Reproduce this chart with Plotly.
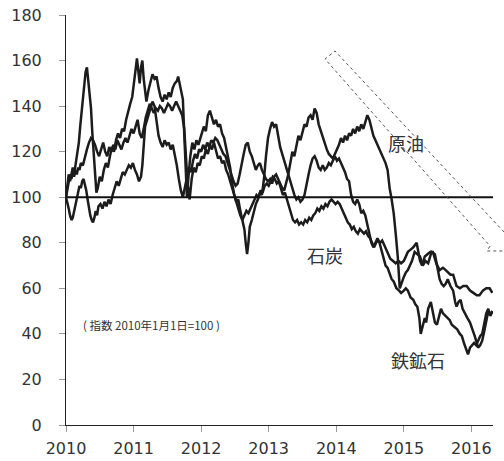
import plotly.graph_objects as go

# ---- data (decimal year, index 2010/1/1 = 100) ----
iron_x = [2010.00,2010.02,2010.04,2010.06,2010.08,2010.10,2010.12,2010.14,2010.17,2010.19,2010.21,2010.23,2010.25,2010.27,2010.29,2010.31,2010.33,2010.35,2010.37,2010.39,2010.41,2010.43,2010.45,2010.47,2010.50,2010.53,2010.56,2010.59,2010.62,2010.65,2010.68,2010.71,2010.74,2010.77,2010.80,2010.83,2010.86,2010.89,2010.92,2010.95,2010.98,2011.01,2011.03,2011.05,2011.07,2011.09,2011.11,2011.13,2011.15,2011.17,2011.19,2011.22,2011.25,2011.28,2011.31,2011.34,2011.37,2011.40,2011.43,2011.46,2011.49,2011.52,2011.55,2011.58,2011.61,2011.64,2011.66,2011.68,2011.71,2011.73,2011.75,2011.77,2011.79,2011.81,2011.84,2011.87,2011.90,2011.93,2011.96,2012.00,2012.04,2012.07,2012.10,2012.13,2012.16,2012.19,2012.22,2012.25,2012.28,2012.31,2012.34,2012.37,2012.40,2012.43,2012.46,2012.49,2012.52,2012.55,2012.58,2012.61,2012.64,2012.66,2012.68,2012.70,2012.72,2012.75,2012.78,2012.81,2012.84,2012.87,2012.90,2012.93,2012.96,2012.99,2013.02,2013.05,2013.08,2013.11,2013.14,2013.17,2013.20,2013.23,2013.26,2013.29,2013.32,2013.35,2013.38,2013.41,2013.44,2013.47,2013.50,2013.53,2013.56,2013.59,2013.62,2013.65,2013.68,2013.71,2013.74,2013.77,2013.80,2013.83,2013.86,2013.89,2013.92,2013.95,2013.98,2014.01,2014.04,2014.07,2014.10,2014.13,2014.16,2014.19,2014.22,2014.25,2014.28,2014.31,2014.34,2014.37,2014.40,2014.43,2014.46,2014.49,2014.52,2014.55,2014.58,2014.61,2014.64,2014.67,2014.70,2014.73,2014.76,2014.79,2014.82,2014.85,2014.89,2014.93,2014.96,2015.00,2015.03,2015.06,2015.10,2015.14,2015.17,2015.20,2015.23,2015.25,2015.28,2015.31,2015.33,2015.36,2015.40,2015.43,2015.46,2015.49,2015.52,2015.55,2015.58,2015.61,2015.64,2015.68,2015.71,2015.75,2015.79,2015.83,2015.86,2015.89,2015.92,2015.95,2015.98,2016.01,2016.04,2016.07,2016.10,2016.13,2016.16,2016.19,2016.22,2016.25,2016.28,2016.31]
iron_y = [100,106,110,107,111,113,110,114,118,124,131,137,143,150,155,157,151,148,139,128,118,108,102,104,109,107,112,115,113,118,122,120,125,128,126,130,129,134,138,141,144,150,156,161,155,150,157,160,152,146,142,147,151,154,152,153,148,144,142,145,143,146,144,148,150,151,153,150,147,143,128,110,100,108,118,124,121,125,123,127,131,129,136,138,135,132,134,131,132,128,126,122,117,113,106,101,98,99,94,90,86,80,75,80,87,90,94,97,99,102,101,108,118,126,130,133,131,132,127,122,119,116,113,110,106,103,101,99,100,98,99,101,106,110,114,117,118,116,113,112,114,112,113,115,114,116,118,116,117,115,113,111,108,107,101,98,97,99,97,93,94,92,88,84,80,78,80,82,80,77,73,70,69,66,64,63,60,59,58,59,60,59,56,55,53,52,47,40,44,47,45,51,54,50,45,44,48,51,49,48,47,46,44,43,42,40,39,36,33,31,34,35,36,35,37,39,40,44,49,51,48,50]

oil_x = [2010.00,2010.02,2010.04,2010.06,2010.08,2010.10,2010.12,2010.14,2010.16,2010.18,2010.20,2010.22,2010.24,2010.26,2010.28,2010.30,2010.32,2010.34,2010.36,2010.38,2010.40,2010.42,2010.44,2010.46,2010.48,2010.51,2010.54,2010.57,2010.60,2010.63,2010.66,2010.69,2010.72,2010.75,2010.78,2010.81,2010.84,2010.87,2010.90,2010.93,2010.96,2010.99,2011.02,2011.05,2011.08,2011.11,2011.13,2011.15,2011.17,2011.19,2011.22,2011.25,2011.28,2011.31,2011.34,2011.37,2011.40,2011.43,2011.46,2011.49,2011.52,2011.55,2011.58,2011.61,2011.64,2011.67,2011.70,2011.73,2011.76,2011.79,2011.82,2011.85,2011.88,2011.91,2011.94,2011.97,2012.00,2012.03,2012.06,2012.09,2012.12,2012.15,2012.18,2012.21,2012.24,2012.27,2012.30,2012.33,2012.36,2012.39,2012.42,2012.45,2012.48,2012.51,2012.54,2012.57,2012.60,2012.63,2012.66,2012.69,2012.72,2012.75,2012.78,2012.81,2012.84,2012.87,2012.90,2012.93,2012.96,2012.99,2013.02,2013.05,2013.08,2013.11,2013.14,2013.17,2013.20,2013.23,2013.26,2013.29,2013.32,2013.35,2013.38,2013.41,2013.44,2013.47,2013.50,2013.53,2013.56,2013.59,2013.62,2013.65,2013.68,2013.71,2013.74,2013.77,2013.80,2013.83,2013.86,2013.89,2013.92,2013.95,2013.98,2014.01,2014.04,2014.07,2014.10,2014.13,2014.16,2014.19,2014.22,2014.25,2014.28,2014.31,2014.34,2014.37,2014.40,2014.43,2014.46,2014.49,2014.52,2014.55,2014.58,2014.61,2014.64,2014.67,2014.70,2014.73,2014.76,2014.79,2014.82,2014.85,2014.88,2014.91,2014.94,2014.97,2015.00,2015.03,2015.06,2015.09,2015.12,2015.16,2015.20,2015.24,2015.28,2015.32,2015.36,2015.41,2015.46,2015.50,2015.53,2015.56,2015.59,2015.62,2015.65,2015.69,2015.73,2015.76,2015.78,2015.81,2015.84,2015.87,2015.90,2015.94,2015.98,2016.02,2016.05,2016.08,2016.10,2016.13,2016.16,2016.19,2016.22,2016.25,2016.28,2016.31]
oil_y = [100,98,95,92,90,91,94,97,100,103,105,104,107,108,106,103,99,95,92,90,89,91,94,92,96,97,95,98,96,99,97,101,104,107,105,108,111,110,112,114,113,115,112,110,107,109,114,124,131,133,136,139,142,140,133,127,124,122,125,123,124,121,123,119,114,108,103,100,104,109,113,111,116,119,117,121,120,123,121,124,122,125,124,126,125,123,121,119,118,115,113,110,107,105,106,110,115,119,123,124,120,118,115,112,114,115,112,110,108,107,108,106,109,110,108,106,104,103,106,110,115,120,118,123,127,125,129,132,131,135,136,134,139,137,132,129,126,124,121,119,118,117,119,121,123,126,124,127,125,128,127,130,128,131,129,132,130,133,136,134,130,127,125,123,121,119,117,115,112,104,99,93,84,74,60,63,65,67,68,70,72,76,75,74,70,72,71,76,75,68,64,62,61,62,64,61,59,54,52,54,55,51,49,47,45,42,39,36,34,35,37,41,45,50,48,50]

coal_x = [2010.00,2010.02,2010.04,2010.06,2010.08,2010.10,2010.12,2010.14,2010.16,2010.18,2010.20,2010.22,2010.25,2010.28,2010.31,2010.34,2010.37,2010.40,2010.43,2010.46,2010.49,2010.52,2010.55,2010.58,2010.61,2010.64,2010.67,2010.70,2010.73,2010.76,2010.79,2010.82,2010.85,2010.88,2010.91,2010.94,2010.97,2011.00,2011.03,2011.06,2011.09,2011.12,2011.15,2011.18,2011.21,2011.24,2011.27,2011.30,2011.33,2011.36,2011.39,2011.42,2011.45,2011.48,2011.51,2011.54,2011.57,2011.60,2011.63,2011.66,2011.69,2011.72,2011.75,2011.77,2011.80,2011.83,2011.86,2011.89,2011.92,2011.95,2011.98,2012.01,2012.04,2012.07,2012.10,2012.13,2012.16,2012.19,2012.22,2012.25,2012.28,2012.31,2012.34,2012.37,2012.40,2012.43,2012.46,2012.49,2012.52,2012.55,2012.58,2012.61,2012.64,2012.67,2012.70,2012.73,2012.76,2012.79,2012.82,2012.85,2012.88,2012.91,2012.94,2012.97,2013.00,2013.03,2013.06,2013.09,2013.12,2013.15,2013.18,2013.21,2013.24,2013.27,2013.30,2013.33,2013.36,2013.39,2013.42,2013.45,2013.48,2013.51,2013.54,2013.57,2013.60,2013.63,2013.66,2013.69,2013.72,2013.75,2013.78,2013.81,2013.84,2013.87,2013.90,2013.93,2013.96,2013.99,2014.02,2014.05,2014.08,2014.11,2014.14,2014.17,2014.20,2014.23,2014.26,2014.29,2014.32,2014.35,2014.38,2014.41,2014.44,2014.47,2014.50,2014.53,2014.56,2014.59,2014.62,2014.65,2014.68,2014.71,2014.74,2014.77,2014.80,2014.84,2014.88,2014.92,2014.96,2015.00,2015.03,2015.06,2015.10,2015.14,2015.19,2015.22,2015.24,2015.27,2015.31,2015.35,2015.39,2015.43,2015.46,2015.48,2015.53,2015.58,2015.62,2015.65,2015.69,2015.73,2015.76,2015.78,2015.83,2015.88,2015.93,2015.98,2016.03,2016.08,2016.12,2016.17,2016.22,2016.27,2016.31]
coal_y = [100,104,107,110,108,111,109,112,110,113,112,115,114,118,121,124,126,125,123,120,118,121,124,120,118,122,120,123,121,125,123,121,124,126,124,127,130,128,131,134,128,126,130,135,138,141,139,137,139,138,140,139,137,139,141,140,138,140,142,140,138,136,130,118,106,99,108,113,111,115,114,118,117,121,119,123,121,124,120,117,118,115,116,112,110,107,103,100,97,95,92,90,92,94,93,95,97,99,101,100,103,102,105,106,105,107,109,108,106,107,104,101,102,99,96,93,90,89,90,88,89,88,90,89,91,90,92,93,95,94,96,95,97,96,98,99,98,97,98,97,95,93,91,89,88,86,87,85,84,86,85,84,85,83,82,80,78,80,81,80,81,79,77,75,73,72,71,72,71,72,74,76,77,78,80,76,72,70,74,75,76,76,73,71,68,69,68,67,66,66,63,61,60,61,61,59,58,57,57,59,60,60,58]

year_ticks = [2010, 2011, 2012, 2013, 2014, 2015, 2016]
year_labels = ["2010", "2011", "2012", "2013", "2014", "2015", "2016"]
y_ticks = [0, 20, 40, 60, 80, 100, 120, 140, 160, 180]

LINE = dict(color="#1c1c1c", width=2.5)

fig = go.Figure()
for xs, ys, nm in [(coal_x, coal_y, "石炭"), (oil_x, oil_y, "原油"), (iron_x, iron_y, "鉄鉱石")]:
    fig.add_trace(go.Scatter(x=xs, y=ys, mode="lines", name=nm, line=LINE, showlegend=False,
                             hoverinfo="skip"))

X0, X1 = 2010, 2016.32

# baseline at 100
fig.add_shape(type="line", xref="x", yref="y", x0=X0, x1=X1, y0=100, y1=100,
              line=dict(color="#111111", width=2))

# dashed arrow box (paper coordinates, plot area 66..493 x 15..425 px)
def P(px, py):
    return (px - 66) / 427.0, (425 - py) / 410.0

pts = [P(504, 232), P(335, 51), P(325, 59), P(490, 246), P(487, 251), P(504, 251)]
path = "M " + " L ".join(f"{a:.4f},{b:.4f}" for a, b in pts)
fig.add_shape(type="path", xref="paper", yref="paper", path=path,
              line=dict(color="#555555", width=1, dash="dot"))

JP = "Noto Sans CJK JP"
ann = dict(showarrow=False, xref="x", yref="y", font=dict(family=JP, size=18, color="#333333"))
fig.add_annotation(x=2015.03, y=123.8, text="原油", **ann)
fig.add_annotation(x=2013.83, y=74.6, text="石炭", **ann)
fig.add_annotation(x=2015.21, y=28.5, text="鉄鉱石", **ann)
fig.add_annotation(x=2011.27, y=43.9, text="( 指数 2010年1月1日=100 )", showarrow=False,
                   xref="x", yref="y", font=dict(family=JP, size=11.5, color="#333333"))

fig.update_layout(
    width=504, height=461,
    margin=dict(l=66, r=11, t=15, b=36, autoexpand=False),
    paper_bgcolor="white", plot_bgcolor="white",
    font=dict(family="DejaVu Sans", size=15, color="#333333"),
)
fig.update_xaxes(range=[X0, X1], tickvals=year_ticks, ticktext=year_labels, automargin=False,
                 showgrid=False, zeroline=False, showline=True, linecolor="#222222", linewidth=1,
                 ticks="outside", ticklen=6, tickcolor="#999999", tickwidth=1,
                 ticklabelstandoff=3, tickfont=dict(family="DejaVu Sans", size=16, color="#333333"))
fig.update_yaxes(range=[0, 180], tickvals=y_ticks, automargin=False,
                 showgrid=False, zeroline=False, showline=True, linecolor="#222222", linewidth=1,
                 ticks="outside", ticklen=6, tickcolor="#999999", tickwidth=1,
                 ticklabelstandoff=14, tickfont=dict(family="DejaVu Sans", size=16, color="#333333"))

fig.write_html("out.html", config={"displayModeBar": False},
               post_script="document.body.style.margin='0px';document.body.style.overflow='hidden';")
